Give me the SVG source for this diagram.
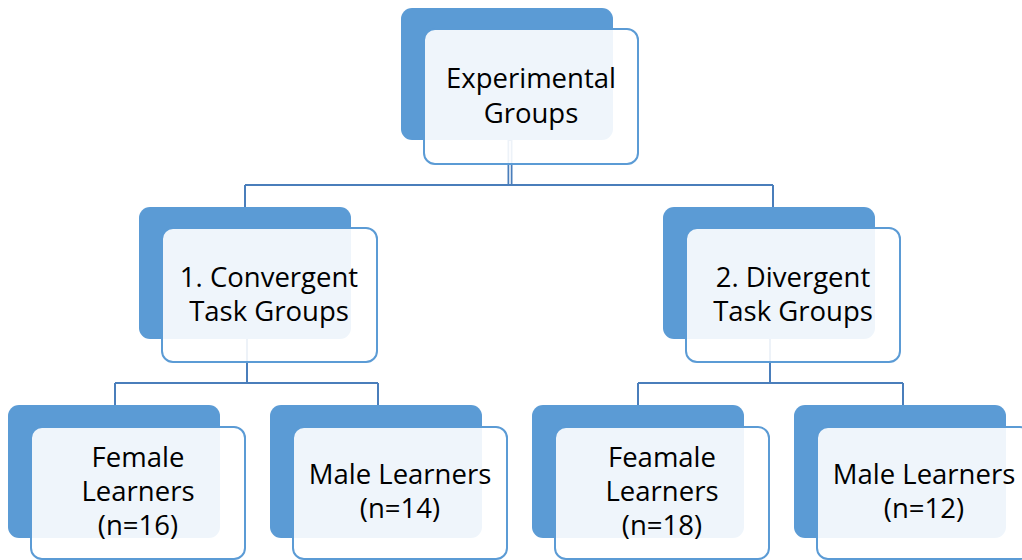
<svg xmlns="http://www.w3.org/2000/svg" width="1022" height="560" viewBox="0 0 1022 560">
<style>
.back{fill:#5b9bd5}
.front{fill:#ffffff;fill-opacity:0.9;stroke:#5b9bd5;stroke-width:2}
.conn{stroke:#4a7ebb;stroke-width:2;fill:none}
text{font-family:"Open Sans","Liberation Sans",sans-serif;font-size:27.5px;fill:#000;text-anchor:middle}
</style>
<rect width="1022" height="560" fill="#ffffff"/>
<g id="connectors">
<path class="conn" d="M245 185H773M245 185V207M773 185V207"/>
<path d="M510 140V186" stroke="#4a7ebb" stroke-width="5"/>
<path d="M510 141V184" stroke="#ffffff" stroke-width="1.5"/>
<path class="conn" d="M247 339V383M115 383H378M115 383V405M378 383V405"/>
<path class="conn" d="M770 339V383M638 383H903M638 383V405M903 383V405"/>
</g>
<g id="experimental">
<rect class="back" x="401" y="8" width="212" height="132" rx="11"/>
<rect class="front" x="424" y="29" width="214" height="135" rx="11"/>
<text x="531" y="88">Experimental</text>
<text x="531" y="123">Groups</text>
</g>
<g id="convergent">
<rect class="back" x="139" y="207" width="212" height="132" rx="11"/>
<rect class="front" x="162" y="228" width="215" height="134" rx="11"/>
<text x="269" y="287">1. Convergent</text>
<text x="269" y="321">Task Groups</text>
</g>
<g id="divergent">
<rect class="back" x="663" y="207" width="212" height="132" rx="11"/>
<rect class="front" x="686" y="228" width="214" height="134" rx="11"/>
<text x="793" y="287">2. Divergent</text>
<text x="793" y="321">Task Groups</text>
</g>
<g id="female1">
<rect class="back" x="8" y="405" width="212" height="133" rx="11"/>
<rect class="front" x="31" y="427" width="214" height="132" rx="11"/>
<text x="138" y="467">Female</text>
<text x="138" y="501">Learners</text>
<text x="138" y="535">(n=16)</text>
</g>
<g id="male1">
<rect class="back" x="270" y="405" width="212" height="133" rx="11"/>
<rect class="front" x="293" y="427" width="214" height="132" rx="11"/>
<text x="400" y="484">Male Learners</text>
<text x="400" y="518">(n=14)</text>
</g>
<g id="female2">
<rect class="back" x="532" y="405" width="212" height="133" rx="11"/>
<rect class="front" x="555" y="427" width="214" height="132" rx="11"/>
<text x="662" y="467">Feamale</text>
<text x="662" y="501">Learners</text>
<text x="662" y="535">(n=18)</text>
</g>
<g id="male2">
<rect class="back" x="794" y="405" width="212" height="133" rx="11"/>
<rect class="front" x="817" y="427" width="214" height="132" rx="11"/>
<text x="924" y="484">Male Learners</text>
<text x="924" y="518">(n=12)</text>
</g>
</svg>
